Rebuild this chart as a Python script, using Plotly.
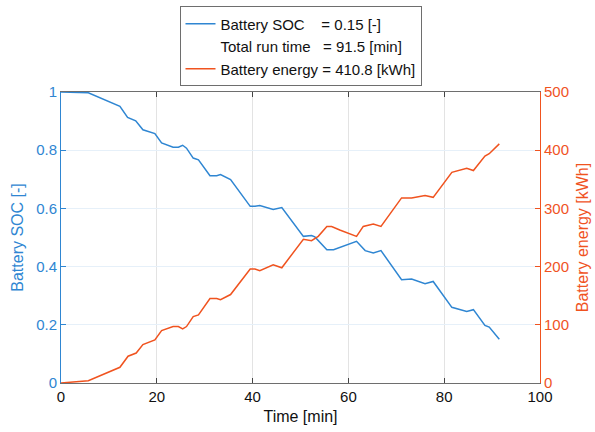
import plotly.graph_objects as go

time_soc = [0, 5.7, 12.3, 13.9, 15.6, 17.1, 19.6, 21.0, 23.4, 24.5, 25.4, 26.2, 27.6, 28.7, 31.1, 32.5, 33.3, 35.4,
            39.5, 40.5, 41.5, 44.3, 46.1, 50.6, 52.3, 53.0, 55.5, 56.9, 61.7, 63.5, 65.2, 66.8, 71.1, 73.2, 76.0,
            77.7, 81.6, 84.7, 86.1, 88.5, 89.4, 91.5]
soc = [1.0, 0.997, 0.951, 0.913, 0.901, 0.870, 0.857, 0.825, 0.81, 0.81, 0.817, 0.807, 0.773, 0.767, 0.712, 0.712,
       0.716, 0.699, 0.607, 0.607, 0.61, 0.596, 0.603, 0.504, 0.507, 0.502, 0.458, 0.458, 0.487, 0.455, 0.447,
       0.455, 0.355, 0.357, 0.341, 0.349, 0.26, 0.246, 0.252, 0.198, 0.192, 0.15]

time_en = [0, 5.7, 12.3, 14.0, 15.7, 17.1, 19.6, 21.0, 23.4, 24.5, 25.4, 26.2, 27.6, 28.7, 31.1, 32.5, 33.3, 35.4,
           39.5, 40.5, 41.5, 44.3, 46.1, 50.6, 52.3, 53.7, 55.5, 56.5, 58.2, 61.7, 63.1, 65.2, 66.8, 71.1, 73.2,
           76.0, 77.7, 81.6, 84.7, 86.1, 88.5, 89.4, 91.5]
energy = [0, 4, 27, 46, 51.5, 66, 74, 90, 97, 97, 93, 97, 114, 117, 145, 145, 143, 152, 196, 196, 193, 203, 198,
          247, 244.5, 252, 269, 269, 263, 252, 269, 273, 269, 318, 318, 322, 319, 362, 369, 365, 390, 394, 410.8]

x_ticks = [0, 20, 40, 60, 80, 100]
soc_ticks = [0, 0.2, 0.4, 0.6, 0.8, 1]
soc_tick_text = ["0", "0.2", "0.4", "0.6", "0.8", "1"]
energy_ticks = [0, 100, 200, 300, 400, 500]

BLUE = "#2f86d2"
ORANGE = "#f0531f"
FONT = "Liberation Sans, Arial, Helvetica, sans-serif"
NB = "\u00a0"

fig = go.Figure()
fig.add_trace(go.Scatter(x=time_soc, y=soc, mode="lines", line=dict(color=BLUE, width=1.5),
                         name="Battery SOC" + NB * 4 + "= 0.15 [-]", yaxis="y"))
fig.add_trace(go.Scatter(x=[None], y=[None], mode="lines", line=dict(color="rgba(0,0,0,0)", width=1.5),
                         name="Total run time" + NB * 3 + "= 91.5 [min]", yaxis="y"))
fig.add_trace(go.Scatter(x=time_en, y=energy, mode="lines", line=dict(color=ORANGE, width=1.5),
                         name="Battery energy = 410.8 [kWh]", yaxis="y2"))

fig.update_layout(
    width=595, height=432,
    margin=dict(l=61, r=55, t=92, b=49),
    paper_bgcolor="white", plot_bgcolor="white",
    font=dict(family=FONT, size=14, color="#262626"),
    showlegend=True,
    legend=dict(x=0.5, xanchor="center", y=0.985, yanchor="top", xref="paper", yref="container",
                bgcolor="white", bordercolor="#6e6e6e", borderwidth=1,
                font=dict(size=15, color="#111111"), tracegroupgap=0, itemwidth=30),
    xaxis=dict(range=[0, 100], tickvals=x_ticks, ticks="inside", ticklen=5, tickcolor="#444",
               showline=True, linecolor="#6e6e6e", linewidth=1, mirror="ticks",
               showgrid=True, gridcolor="#e3e3e3", zeroline=False, automargin=False,
               tickfont=dict(size=15, color="#111"),
               title=dict(text="Time [min]", font=dict(size=16, color="#111"), standoff=6)),
    yaxis=dict(range=[0, 1], tickvals=soc_ticks, ticktext=soc_tick_text, ticks="inside", ticklen=5,
               tickcolor=BLUE, showline=True, linecolor=BLUE, linewidth=1,
               showgrid=True, gridcolor="#e6f0f9", zeroline=False, automargin=False,
               tickfont=dict(size=15, color=BLUE),
               title=dict(text="Battery SOC [-]", font=dict(size=16, color=BLUE), standoff=8)),
    yaxis2=dict(range=[0, 500], tickvals=energy_ticks, overlaying="y", side="right", ticks="inside", ticklen=5,
                tickcolor=ORANGE, showline=True, linecolor=ORANGE, linewidth=1,
                showgrid=False, zeroline=False, automargin=False,
                tickfont=dict(size=15, color=ORANGE),
                title=dict(text="Battery energy [kWh]", font=dict(size=16, color=ORANGE), standoff=8)),
)

fig.write_html("out.html")
